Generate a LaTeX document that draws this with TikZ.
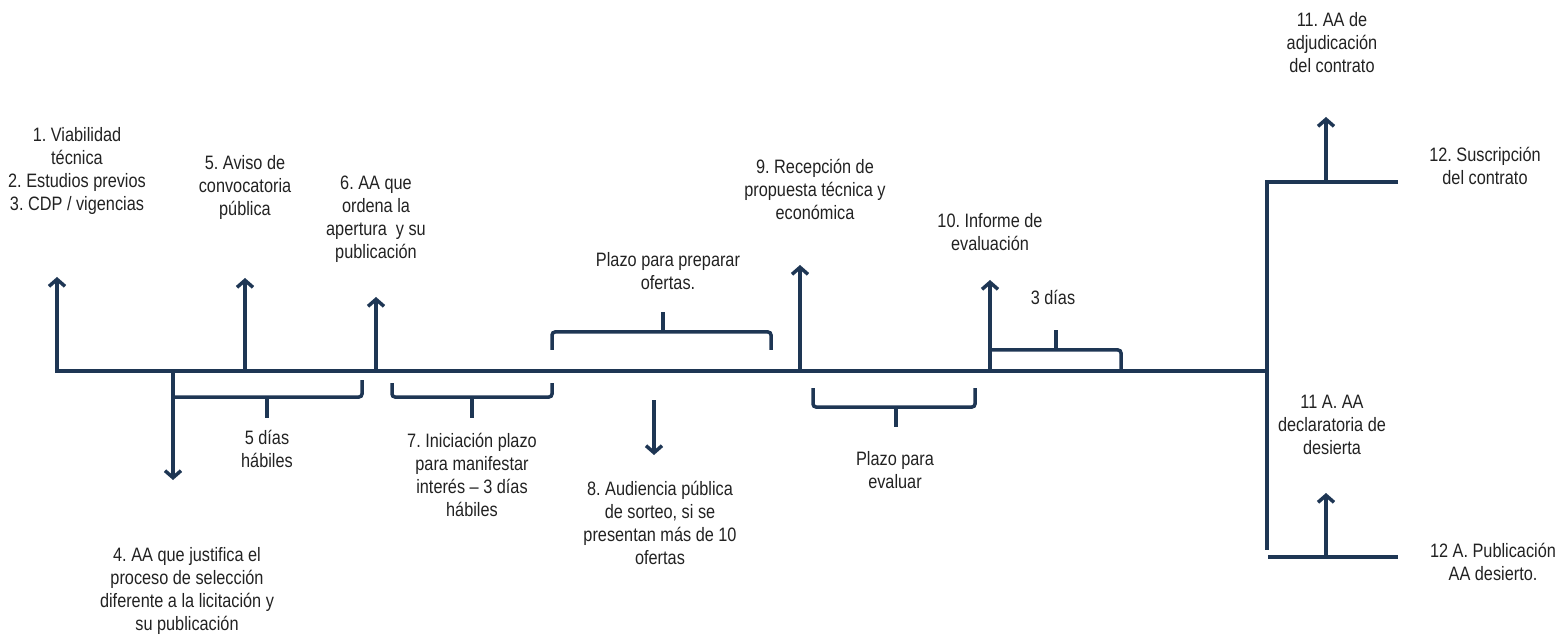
\documentclass[tikz,border=0pt]{standalone}
\usepackage{fontspec}
\setmainfont{Liberation Sans}[FakeStretch=0.84]
\frenchspacing
\usetikzlibrary{arrows.meta,positioning}
\definecolor{navy}{RGB}{30,54,84}
\definecolor{ink}{RGB}{34,34,34}

\begin{document}
\begin{tikzpicture}[x=1pt,y=-1pt,>={Straight Barb[length=7pt,width=16pt]},
    tline/.style={draw=navy,line width=3.5pt},
    brk/.style={tline,rounded corners=3pt},
    lbl/.style={align=center,text=ink,inner sep=0pt,font=\fontsize{19.4}{23}\selectfont}]

  \useasboundingbox (0,0) rectangle (1556,636);

  % linea de tiempo
  \coordinate (t1) at (57,371);
  \coordinate (t4) at (173,371);
  \coordinate (t5) at (245,371);
  \coordinate (t6) at (376,371);
  \coordinate (t9) at (800,371);
  \coordinate (t10) at (990,371);
  \coordinate (tfin) at (1267,371);
  \coordinate (s8) at (654,400);

  % puntas
  \coordinate (a1) at (57,277);
  \coordinate (a4) at (173,480);
  \coordinate (a5) at (245,278);
  \coordinate (a6) at (376,297);
  \coordinate (a8) at (654,455);
  \coordinate (a9) at (800,265);
  \coordinate (a10) at (990,280);

  % rama final
  \coordinate (vtop) at (1267,182);
  \coordinate (vend) at (1267,550);
  \coordinate (topend) at (1398,182);
  \coordinate (botstart) at (1268,557);
  \coordinate (botend) at (1398,557);
  \coordinate (s11) at (1326,182);
  \coordinate (a11) at (1326,117);
  \coordinate (s11a) at (1326,557);
  \coordinate (a11a) at (1326,493);

  \draw[tline,<-] (a1) -- (t1) -- (tfin);
  \draw[tline] (topend) -- (vtop) -- (vend);
  \draw[tline] (botstart) -- (botend);

  \path[->,navy,line width=3.5pt] (t4) edge (a4)
                                  (t5) edge (a5)
                                  (t6) edge (a6)
                                  (s8) edge (a8)
                                  (t9) edge (a9)
                                  (t10) edge (a10)
                                  (s11) edge (a11)
                                  (s11a) edge (a11a);

  % llaves
  \draw[brk] (t4) ++(0,26) -- (362,397) -- (362,380);
  \draw[tline] (267,397) -- (267,418);
  \draw[brk] (392,383) -- (392,397) -- (552,397) -- (552,383);
  \draw[tline] (472,397) -- (472,418);
  \draw[brk] (552,350) -- (552,332) -- (771,332) -- (771,350);
  \draw[tline] (663,332) -- (663,312);
  \draw[brk] (813,388) -- (813,407) -- (975,407) -- (975,388);
  \draw[tline] (896,407) -- (896,427);
  \draw[brk] (990,350) -- (1121,350) -- (1121,371);
  \draw[tline] (1056,350) -- (1056,330);

  % textos
  \node[lbl] (l1) at (77,171) {1. Viabilidad\\técnica\\2. Estudios previos\\3. CDP / vigencias};
  \node[lbl] (l5) at (245,187) {5. Aviso de\\convocatoria\\pública};
  \node[lbl] (l6) at (376,219) {6. AA que\\ordena la\\apertura~ y su\\publicación};
  \node[lbl] (l4) at (187,591) {4. AA que justifica el\\proceso de selección\\diferente a la licitación y\\su publicación};
  \node[lbl] (d5) at (267,449) {5 días\\hábiles};
  \node[lbl] (l7) at (472,475) {7. Iniciación plazo\\para manifestar\\interés – 3 días\\hábiles};
  \node[lbl] (pof) at (668,271) {Plazo para preparar\\ofertas.};
  \node[lbl] (l8) at (660,523) {8. Audiencia pública\\de sorteo, si se\\presentan más de 10\\ofertas};
  \node[lbl] (l9) at (815,189) {9. Recepción de\\propuesta técnica y\\económica};
  \node[lbl] (pev) at (895,470) {Plazo para\\evaluar};
  \node[lbl] (l10) at (990,232) {10. Informe de\\evaluación};
  \node[lbl] (d3) at (1053,297) {3 días};
  \node[lbl] (l11) at (1332,43) {11. AA de\\adjudicación\\del contrato};
  \node[lbl] (l12) at (1485,166) {12. Suscripción\\del contrato};
  \node[lbl] (l11a) at (1332,425) {11 A. AA\\declaratoria de\\desierta};
  \node[lbl] (l12a) at (1493,562) {12 A. Publicación\\AA desierto.};
\end{tikzpicture}
\end{document}
